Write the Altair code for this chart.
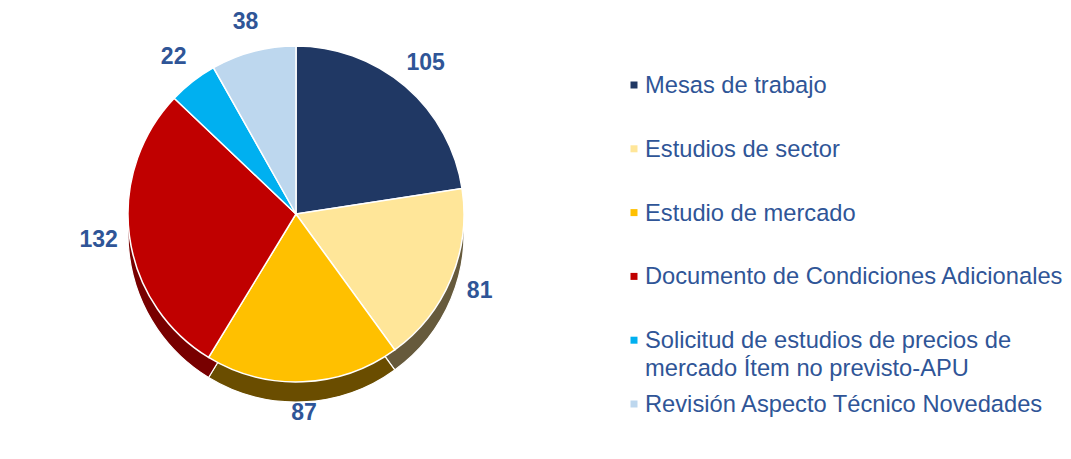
import altair as alt
import pandas as pd

categories = [
    "Mesas de trabajo",
    "Estudios de sector",
    "Estudio de mercado",
    "Documento de Condiciones Adicionales",
    "Solicitud de estudios de precios de mercado Ítem no previsto-APU",
    "Revisión Aspecto Técnico Novedades",
]
legend_labels = [
    "Mesas de trabajo",
    "Estudios de sector",
    "Estudio de mercado",
    "Documento de Condiciones Adicionales",
    "Solicitud de estudios de precios de\nmercado Ítem no previsto-APU",
    "\u2002Revisión Aspecto Técnico Novedades",
]
values = [105, 81, 87, 132, 22, 38]

top_colors = ["#203864", "#FFE699", "#FFC000", "#C00000", "#00B0F0", "#BDD7EE"]
side_colors = ["#16264a", "#665a3c", "#6a4d00", "#780000", "#0078a8", "#8aa3bb"]
text_color = "#2F5597"

df = pd.DataFrame({"cat": categories, "value": values, "order": list(range(len(values)))})
leg = pd.DataFrame({"cat": categories, "label": legend_labels, "row": list(range(len(categories)))})

CX, CY, R, DEPTH = 288, 206, 168, 20

theta = alt.Theta("value:Q", stack=True)
order = alt.Order("order:Q")

side = alt.Chart(df).mark_arc(outerRadius=R, stroke="white", strokeWidth=1.2).encode(
    theta=theta,
    order=order,
    color=alt.Color("cat:N", scale=alt.Scale(domain=categories, range=side_colors), legend=None),
    x=alt.value(CX),
    y=alt.value(CY + DEPTH),
)

top = alt.Chart(df).mark_arc(outerRadius=R, stroke="white", strokeWidth=1.5).encode(
    theta=theta,
    order=order,
    color=alt.Color("cat:N", scale=alt.Scale(domain=categories, range=top_colors), legend=None),
    x=alt.value(CX),
    y=alt.value(CY),
)

labels = alt.Chart(df).mark_text(
    radius=R + 31, fontSize=23, fontWeight="bold", font="Liberation Sans", color=text_color
).encode(
    theta=theta,
    order=order,
    text=alt.Text("value:Q"),
    x=alt.value(CX),
    y=alt.value(CY),
)

yscale = alt.Scale(domain=[0, 5], range=[77, 396])

leg_sq = alt.Chart(leg).mark_square(size=49, opacity=1).encode(
    x=alt.value(626),
    y=alt.Y("row:Q", scale=yscale, axis=None),
    color=alt.Color("cat:N", scale=alt.Scale(domain=categories, range=top_colors), legend=None),
)

leg_txt = alt.Chart(leg).mark_text(
    align="left", baseline="alphabetic", dy=8, fontSize=23.7, font="Liberation Sans",
    color=text_color, lineBreak="\n", lineHeight=28,
).encode(
    x=alt.value(637),
    y=alt.Y("row:Q", scale=yscale, axis=None),
    text="label:N",
)

chart = alt.layer(side, top, labels, leg_sq, leg_txt).resolve_scale(
    color="independent"
).properties(
    width=1055, height=443, autosize=alt.AutoSizeParams(type="none"), padding=0
).configure_view(stroke=None)

chart.save("out.html", embed_options={"renderer": "svg", "actions": False})
